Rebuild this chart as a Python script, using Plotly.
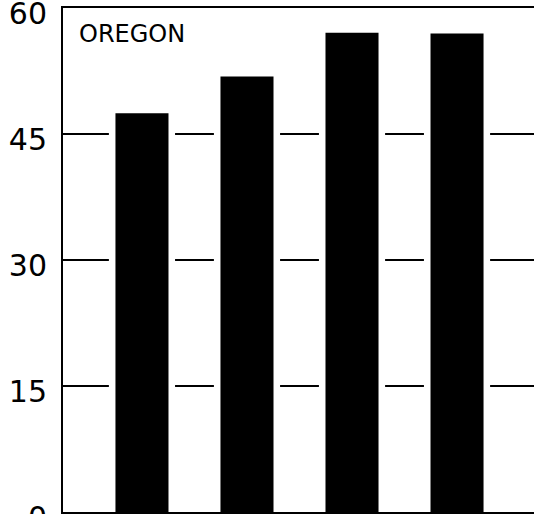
import plotly.graph_objects as go

categories = ["A", "B", "C", "D"]
values = [47.5, 51.9, 57.1, 57.0]
tick_vals = [0, 15, 30, 45, 60]
tick_text = ["0", "15", "30", "45", "60"]
panel_title = "OREGON"

fig = go.Figure()
# white halo behind each bar to break the grid lines around bars
fig.add_trace(go.Bar(x=categories, y=values, width=0.63,
                     marker=dict(color="white", line=dict(width=0)),
                     hoverinfo="skip", showlegend=False))
fig.add_trace(go.Bar(x=categories, y=values, width=0.505,
                     marker=dict(color="black", line=dict(width=0)),
                     showlegend=False))

fig.update_layout(
    template="none",
    width=534, height=514,
    margin=dict(l=63, r=0, t=8, b=2, pad=0),
    paper_bgcolor="white", plot_bgcolor="white",
    barmode="overlay",
    font=dict(family="DejaVu Sans", color="black"),
    xaxis=dict(type="category", range=[-0.752, 3.733], showticklabels=False,
               showgrid=False, zeroline=False, showline=True, linecolor="black",
               linewidth=2, mirror=True, ticks="", automargin=False),
    yaxis=dict(range=[0, 60.05], tickvals=tick_vals, ticktext=tick_text,
               showgrid=True, gridcolor="black", gridwidth=2, zeroline=False,
               showline=True, linecolor="black", linewidth=2, ticks="",
               tickfont=dict(size=30, family="DejaVu Sans", color="black"),
               ticklabelstandoff=8, ticklabelshift=5, automargin=False,
               ticklabeloverflow="allow"),
    annotations=[dict(text=panel_title, xref="paper", yref="paper", x=0.03, y=0.98,
                      xanchor="left", yanchor="top", showarrow=False,
                      font=dict(size=24, family="DejaVu Sans", color="black"))],
)

fig.write_html(
    "out.html",
    config={"displayModeBar": False},
    post_script="document.body.style.margin='0';document.body.style.overflow='hidden';",
)
